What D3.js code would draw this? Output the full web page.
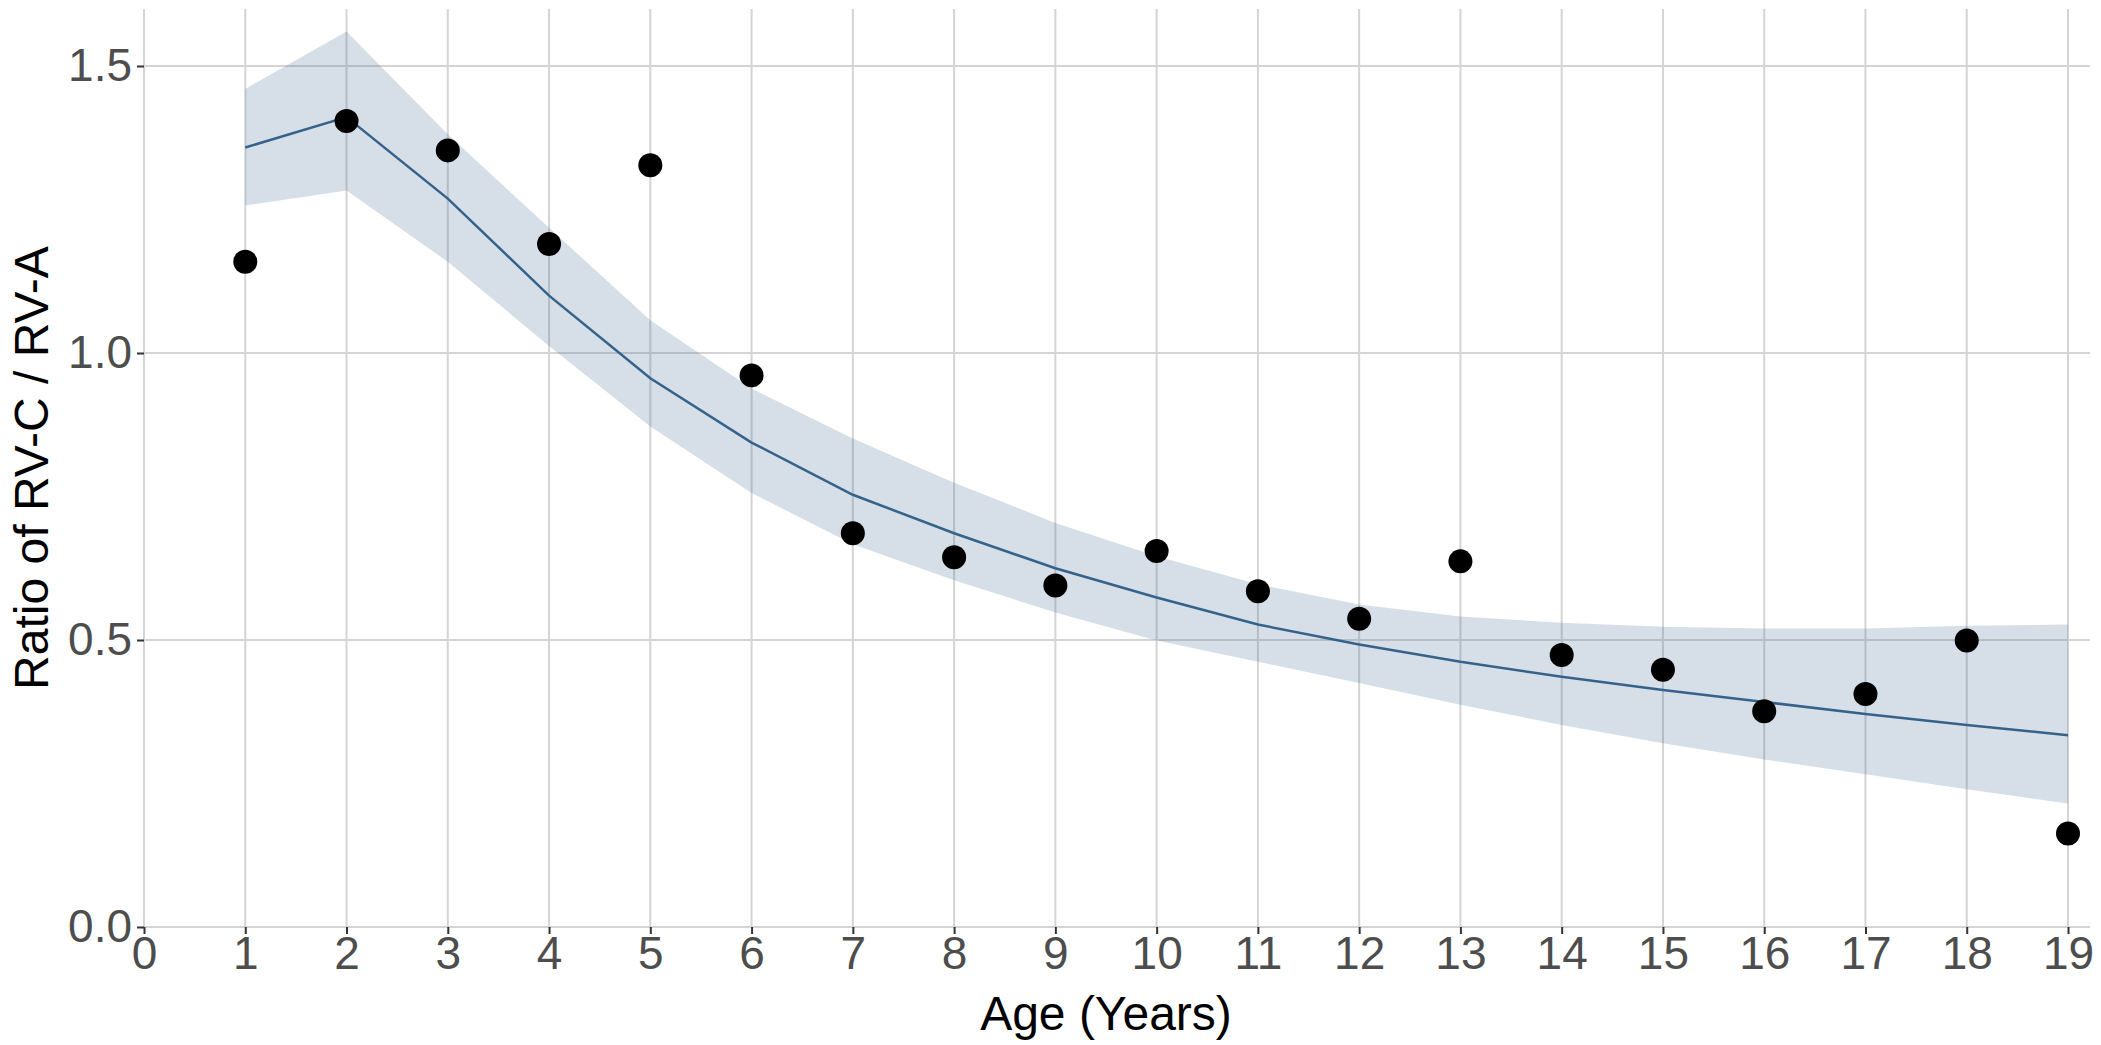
<!DOCTYPE html>
<html>
<head>
<meta charset="utf-8">
<script src="https://cdn.jsdelivr.net/npm/d3@7"></script>
<style>body{margin:0;background:#fff}</style>
</head>
<body>
<div id="chart"></div>
<script>
// values
const ages = [1,2,3,4,5,6,7,8,9,10,11,12,13,14,15,16,17,18,19]
const observed = [1.159,1.404,1.353,1.19,1.327,0.961,0.686,0.644,0.595,0.655,0.585,0.537,0.637,0.474,0.448,0.376,0.406,0.499,0.163]
const fitted = [1.358,1.411,1.269,1.10,0.956,0.844,0.753,0.686,0.625,0.574,0.527,0.492,0.462,0.436,0.413,0.392,0.371,0.352,0.334]
const upper = [1.46,1.56,1.381,1.218,1.057,0.938,0.851,0.774,0.704,0.646,0.597,0.562,0.541,0.53,0.523,0.52,0.52,0.525,0.527]
const lower = [1.257,1.283,1.159,1.012,0.872,0.756,0.667,0.604,0.548,0.499,0.462,0.425,0.387,0.352,0.320,0.292,0.266,0.240,0.215]
const xTicks = d3.range(0, 20)
const yTicks = [0, 0.5, 1.0, 1.5]

const width = 2101, height = 1045
const margin = {left: 144, right: 2101 - 2090, top: 9, bottom: 1045 - 927}

let svg = d3.select("#chart").append("svg")
    .attr("width", width).attr("height", height)

let x = d3.scaleLinear().domain([0, 19]).range([144, 2068])
let y = d3.scaleLinear().domain([0, 1.5]).range([927, 66])

// grid
svg.append("g").selectAll("line").data(xTicks).enter().append("line")
    .attr("x1", d => x(d)).attr("x2", d => x(d))
    .attr("y1", margin.top).attr("y2", 927)
    .attr("stroke", "#d4d4d4").attr("stroke-width", 2)
svg.append("g").selectAll("line").data(yTicks).enter().append("line")
    .attr("x1", 144).attr("x2", width - margin.right)
    .attr("y1", d => y(d)).attr("y2", d => y(d))
    .attr("stroke", "#d4d4d4").attr("stroke-width", 2)

// confidence band
let rows = ages.map((a, i) => ({a: a, lo: lower[i], hi: upper[i], f: fitted[i], o: observed[i]}))
svg.append("path").datum(rows)
    .attr("d", d3.area().x(d => x(d.a)).y0(d => y(d.lo)).y1(d => y(d.hi)))
    .attr("fill", "#3c6690").attr("fill-opacity", 0.21)

svg.append("path").datum(rows)
    .attr("d", d3.line().x(d => x(d.a)).y(d => y(d.f)))
    .attr("fill", "none").attr("stroke", "#35628a").attr("stroke-width", 2.5)

svg.append("g").selectAll("circle").data(rows).enter().append("circle")
    .attr("cx", d => x(d.a)).attr("cy", d => y(d.o)).attr("r", 12)
    .attr("fill", "#000")

// axes
let xAxis = svg.append("g").attr("transform", "translate(0,927)")
    .call(d3.axisBottom(x).tickValues(xTicks).tickSize(7).tickPadding(2).tickFormat(d3.format("d")))
let yAxis = svg.append("g").attr("transform", "translate(144,0)")
    .call(d3.axisLeft(y).tickValues(yTicks).tickSize(7).tickPadding(5).tickFormat(d3.format(".1f")))
;[xAxis, yAxis].forEach(g => {
    g.select(".domain").remove()
    g.selectAll(".tick line").attr("stroke", "#333").attr("stroke-width", 2)
    g.selectAll("text").attr("fill", "#4d4d4d")
        .style("font-family", "Liberation Sans, Arial, sans-serif").style("font-size", "46px")
})

svg.append("text")
    .attr("x", (144 + 2068) / 2).attr("y", 1030)
    .attr("text-anchor", "middle")
    .style("font-family", "Liberation Sans, Arial, sans-serif").style("font-size", "48px")
    .text("Age (Years)")

svg.append("text")
    .attr("transform", "rotate(-90)")
    .attr("x", -(9 + 927) / 2).attr("y", 48)
    .attr("text-anchor", "middle")
    .style("font-family", "Liberation Sans, Arial, sans-serif").style("font-size", "48px")
    .text("Ratio of RV-C / RV-A")
</script>
</body>
</html>
